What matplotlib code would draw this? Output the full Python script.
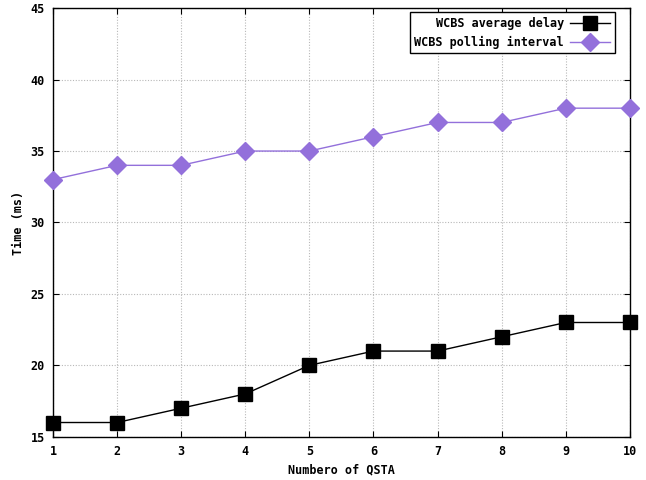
import matplotlib
matplotlib.use('Agg')
import matplotlib.pyplot as plt

qsta = [1, 2, 3, 4, 5, 6, 7, 8, 9, 10]
avg_delay = [16, 16, 17, 18, 20, 21, 21, 22, 23, 23]
polling = [33, 34, 34, 35, 35, 36, 37, 37, 38, 38]

plt.rcParams['font.family'] = 'DejaVu Sans Mono'
plt.rcParams['font.weight'] = 'bold'
plt.rcParams['font.size'] = 8.5

fig = plt.figure(figsize=(6.46, 4.8), dpi=100)
ax = fig.add_axes([0.082, 0.09, 0.893, 0.893])

ax.plot(qsta, avg_delay, color='black', lw=1, marker='s', ms=9.5,
        label='WCBS average delay', clip_on=False, zorder=3)
ax.plot(qsta, polling, color='#9370db', lw=1, marker='D', ms=9,
        label='WCBS polling interval', clip_on=False, zorder=3)

ax.set_xlim(1, 10)
ax.set_ylim(15, 45)
ax.set_xticks(qsta)
ax.set_yticks(range(15, 46, 5))
ax.grid(True, color='#b8b8b8', linestyle=(0, (1, 1.5)), lw=0.8)
ax.tick_params(direction='in', top=True, right=True, length=4, pad=6)
for s in ax.spines.values():
    s.set_linewidth(1)

ax.set_xlabel('Numbero of QSTA', fontweight='bold')
ax.set_ylabel('Time (ms)', fontweight='bold')

leg = ax.legend(loc='upper right', bbox_to_anchor=(0.974, 0.991),
                borderaxespad=0, markerfirst=False, fancybox=False,
                edgecolor='black', framealpha=1, handlelength=3.4,
                handletextpad=0.5, borderpad=0.4, labelspacing=0.5)
leg.get_frame().set_linewidth(1)

fig.savefig('out.png', dpi=100)
